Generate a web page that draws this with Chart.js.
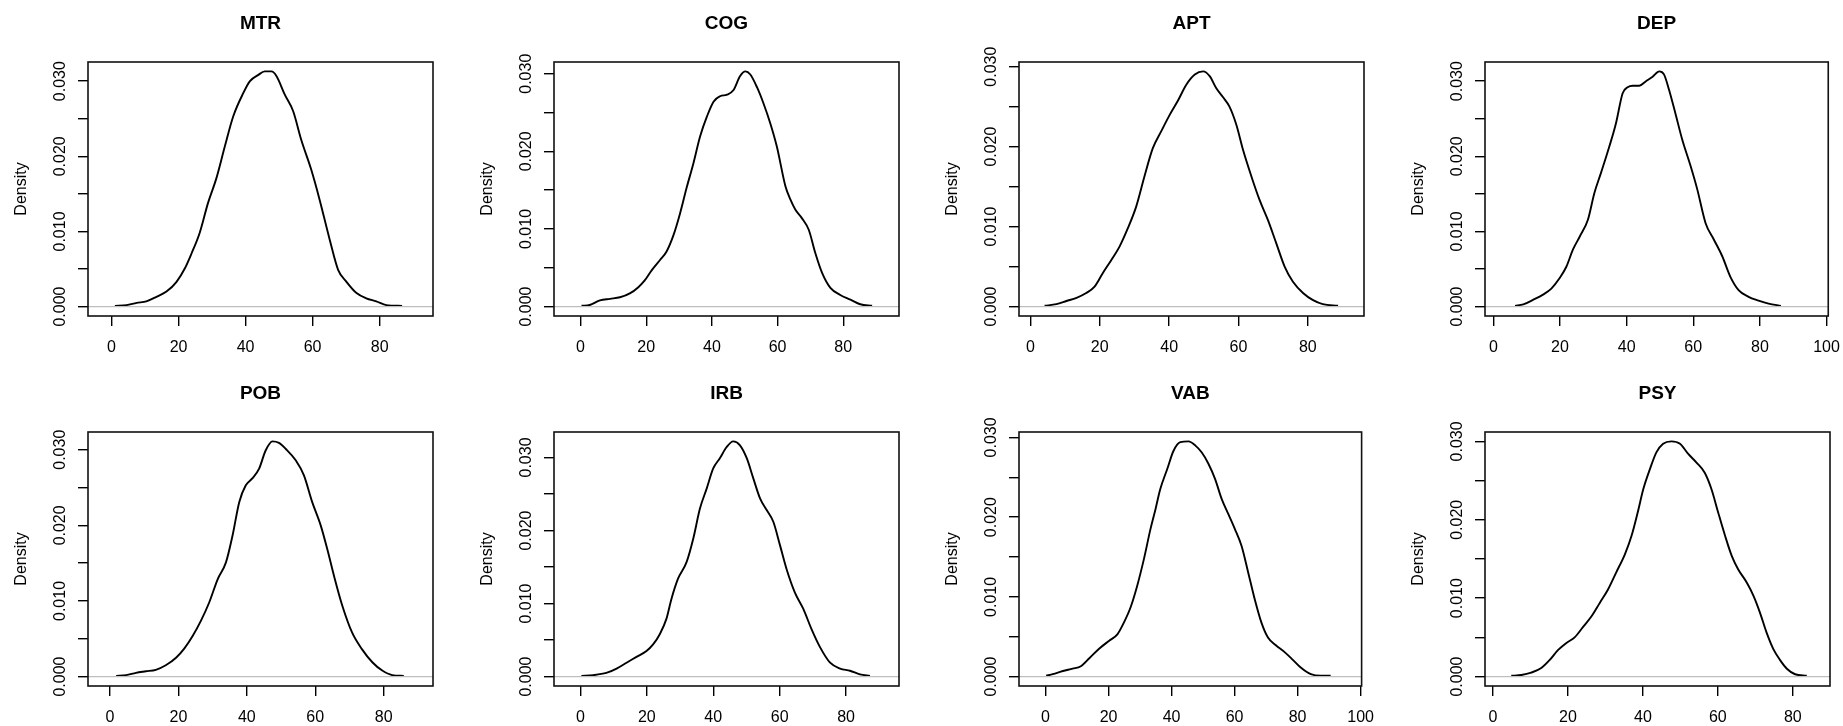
<!DOCTYPE html>
<html>
<head>
<meta charset="utf-8">
<script src="https://cdn.jsdelivr.net/npm/chart.js@4.4.1/dist/chart.umd.min.js"></script>
<style>
html,body{margin:0;padding:0;background:#fff;overflow:hidden;width:1843px;height:726px;position:relative;}
canvas{position:absolute;}
</style>
</head>
<body>
<script>
// ---------- data ----------
const panelNames = ['MTR','COG','APT','DEP','POB','IRB','VAB','PSY'];

const mtrX = [1, 4.5, 7.5, 10.4, 13.4, 16.4, 19.4, 21.9, 23.9, 26.3, 28.8, 31.3, 33.8, 36.3, 39.3, 41.3, 43.7, 45.7, 47.7, 49.2, 51.7, 54.2, 56.6, 59.6, 62.1, 65.1, 67.6, 70.1, 73.1, 76.0, 79.0, 82.0, 86.7];
const mtrY = [0.0001, 0.0002, 0.0005, 0.0007, 0.0013, 0.0020, 0.0033, 0.0051, 0.0071, 0.0098, 0.0138, 0.0171, 0.0213, 0.0253, 0.0284, 0.0300, 0.0308, 0.0313, 0.0313, 0.0307, 0.0282, 0.0260, 0.0222, 0.0182, 0.0142, 0.0089, 0.0049, 0.0033, 0.0018, 0.0011, 0.0007, 0.0002, 0.0001];

const cogX = [0.3, 2.8, 5.9, 9.0, 12.0, 15.0, 17.6, 19.6, 21.7, 24.2, 26.2, 28.3, 30.3, 32.3, 34.4, 36.4, 38.5, 40.5, 42.5, 44.6, 46.6, 48.6, 50.2, 51.7, 53.8, 55.7, 57.8, 59.8, 62.4, 63.9, 65.4, 67.4, 69.5, 71.5, 73.6, 76.1, 79.1, 82.2, 85.2, 88.8];
const cogY = [0.0001, 0.0002, 0.0008, 0.0010, 0.0012, 0.0017, 0.0025, 0.0034, 0.0047, 0.0060, 0.0071, 0.0092, 0.0120, 0.0153, 0.0185, 0.0219, 0.0245, 0.0264, 0.0271, 0.0273, 0.0279, 0.0297, 0.0303, 0.0299, 0.0282, 0.0262, 0.0236, 0.0206, 0.0155, 0.0138, 0.0125, 0.0114, 0.0099, 0.0069, 0.0043, 0.0024, 0.0015, 0.0009, 0.0003, 0.0001];

const aptX = [4.1, 7.5, 10.4, 13.3, 16.1, 18.5, 20.9, 23.3, 25.7, 28.1, 30.5, 32.9, 35.3, 37.7, 40.2, 42.6, 44.9, 47.4, 49.8, 51.7, 53.6, 55.5, 57.4, 59.4, 61.3, 63.7, 66.1, 68.5, 70.9, 73.3, 75.7, 78.6, 81.5, 84.3, 88.7];
const aptY = [0.0001, 0.0003, 0.0007, 0.0011, 0.0017, 0.0025, 0.0042, 0.0058, 0.0075, 0.0098, 0.0125, 0.0163, 0.0198, 0.0219, 0.0240, 0.0258, 0.0277, 0.0290, 0.0294, 0.0288, 0.0273, 0.0262, 0.0250, 0.0227, 0.0196, 0.0163, 0.0133, 0.0108, 0.0079, 0.0050, 0.0031, 0.0017, 0.0008, 0.0003, 0.0001];

const depX = [6.5, 9.0, 11.9, 14.9, 17.4, 19.9, 21.9, 23.9, 25.9, 28.4, 30.3, 32.3, 34.8, 36.8, 38.8, 40.3, 41.8, 43.8, 45.8, 47.8, 49.8, 51.2, 52.7, 54.7, 56.7, 59.2, 61.2, 63.7, 66.2, 68.7, 71.1, 73.6, 76.6, 79.6, 82.6, 86.3];
const depY = [0.0001, 0.0003, 0.0009, 0.0016, 0.0024, 0.0038, 0.0053, 0.0076, 0.0093, 0.0116, 0.0151, 0.0178, 0.0213, 0.0244, 0.0284, 0.0292, 0.0294, 0.0294, 0.0300, 0.0306, 0.0313, 0.0309, 0.0289, 0.0256, 0.0222, 0.0187, 0.0156, 0.0111, 0.0089, 0.0067, 0.0040, 0.0022, 0.0013, 0.0008, 0.0004, 0.0001];

const pobX = [1.8, 4.7, 7.6, 10.5, 13.4, 16.3, 19.3, 21.7, 24.2, 26.6, 29.0, 31.5, 33.9, 35.8, 37.8, 39.7, 41.6, 43.6, 45.5, 47.5, 49.4, 51.4, 54.3, 56.7, 59.1, 61.6, 63.5, 65.5, 67.9, 70.8, 73.7, 76.7, 79.6, 82.5, 85.9];
const pobY = [0.0001, 0.0002, 0.0005, 0.0007, 0.0009, 0.0015, 0.0025, 0.0037, 0.0054, 0.0074, 0.0098, 0.0129, 0.0151, 0.0186, 0.0231, 0.0253, 0.0262, 0.0275, 0.0299, 0.0311, 0.0309, 0.0301, 0.0286, 0.0266, 0.0231, 0.0200, 0.0169, 0.0133, 0.0094, 0.0058, 0.0036, 0.0019, 0.0008, 0.0002, 0.0001];

const irbX = [0.3, 3.8, 7.8, 10.9, 13.9, 16.9, 19.9, 21.9, 23.9, 25.9, 27.4, 29.4, 32.0, 34.0, 36.0, 38.0, 40.0, 42.0, 44.0, 46.0, 48.0, 50.1, 52.1, 54.1, 56.1, 58.1, 60.1, 62.1, 64.6, 67.1, 69.6, 72.2, 75.2, 78.2, 81.2, 84.2, 87.2];
const irbY = [0.0001, 0.0002, 0.0005, 0.0011, 0.0019, 0.0027, 0.0035, 0.0044, 0.0058, 0.0079, 0.0106, 0.0134, 0.0157, 0.0189, 0.0230, 0.0257, 0.0285, 0.0299, 0.0314, 0.0322, 0.0317, 0.0299, 0.0271, 0.0244, 0.0228, 0.0212, 0.0180, 0.0147, 0.0115, 0.0093, 0.0065, 0.0040, 0.0019, 0.0011, 0.0008, 0.0003, 0.0001];

const vabX = [0.2, 2.3, 5.5, 8.6, 11.2, 13.9, 17.0, 20.2, 22.8, 24.9, 27.0, 29.1, 31.2, 33.3, 34.9, 36.4, 38.6, 40.6, 42.8, 45.4, 47.5, 49.6, 51.7, 53.8, 55.9, 58.0, 60.1, 62.2, 64.3, 66.4, 68.5, 70.6, 73.2, 75.8, 78.5, 81.1, 84.2, 87.4, 90.5];
const vabY = [0.0001, 0.0003, 0.0007, 0.0010, 0.0013, 0.0023, 0.0035, 0.0045, 0.0053, 0.0068, 0.0087, 0.0114, 0.0147, 0.0185, 0.0210, 0.0235, 0.0260, 0.0283, 0.0294, 0.0295, 0.0290, 0.0281, 0.0267, 0.0248, 0.0223, 0.0204, 0.0185, 0.0164, 0.0131, 0.0097, 0.0068, 0.0049, 0.0039, 0.0031, 0.0021, 0.0011, 0.0003, 0.0001, 0.0001];

const psyX = [4.9, 7.6, 10.2, 12.9, 15.1, 17.4, 19.6, 21.8, 24.0, 26.3, 28.5, 30.7, 32.9, 35.2, 37.0, 38.7, 40.1, 41.9, 43.6, 45.4, 47.6, 49.9, 52.1, 54.3, 56.5, 58.3, 60.1, 61.9, 63.7, 65.4, 67.7, 69.5, 71.2, 73.0, 74.8, 76.6, 78.4, 80.6, 83.7];
const psyY = [0.0001, 0.0002, 0.0005, 0.0011, 0.0021, 0.0034, 0.0043, 0.0050, 0.0063, 0.0077, 0.0094, 0.0111, 0.0133, 0.0156, 0.0180, 0.0211, 0.0239, 0.0265, 0.0286, 0.0297, 0.0300, 0.0297, 0.0284, 0.0273, 0.0260, 0.0239, 0.0209, 0.0180, 0.0154, 0.0137, 0.0120, 0.0103, 0.0082, 0.0056, 0.0035, 0.0021, 0.0010, 0.0003, 0.0001];

// range over which each density was evaluated (x support)
const mtrRange = [-3.2, 92.1];
const cogRange = [-4.2, 93.1];
const aptRange = [0.4, 92.5];
const depRange = [1.3, 96.7];
const pobRange = [-2.7, 90.7];
const irbRange = [-4.1, 92.1];
const vabRange = [-4.4, 96.3];
const psyRange = [1.3, 86.5];

const xTicks80 = [0, 20, 40, 60, 80];
const xTicks100 = [0, 20, 40, 60, 80, 100];
const yTicks = [0, 0.005, 0.010, 0.015, 0.020, 0.025, 0.030];
const yTickLabels = ['0.000', '', '0.010', '', '0.020', '', '0.030'];
const yAxisTitle = 'Density';

const panelX = [mtrX, cogX, aptX, depX, pobX, irbX, vabX, psyX];
const panelY = [mtrY, cogY, aptY, depY, pobY, irbY, vabY, psyY];
const panelRange = [mtrRange, cogRange, aptRange, depRange, pobRange, irbRange, vabRange, psyRange];
const panelXTicks = [xTicks80, xTicks80, xTicks80, xTicks100, xTicks80, xTicks80, xTicks100, xTicks80];

// ---------- layout ----------
const colLeft = [0, 466, 931, 1397];
const rowTop = [0, 370];
const rowH = [363, 356];
const canvasW = 455;
const boxLeft = 88, boxRight = 433, boxTop = 62, boxBottom = 316;
const FONT = '"Liberation Sans", Arial, Helvetica, sans-serif';

const boxPlugin = {
  id: 'rbox',
  afterDraw(chart) {
    const a = chart.chartArea, ctx = chart.ctx;
    ctx.save();
    ctx.strokeStyle = '#111';
    ctx.lineWidth = 1.6;
    ctx.strokeRect(a.left, a.top, a.right - a.left, a.bottom - a.top);
    ctx.restore();
  }
};

for (let i = 0; i < 8; i++) {
  const r = Math.floor(i / 4), c = i % 4;
  const cv = document.createElement('canvas');
  cv.width = canvasW; cv.height = rowH[r];
  cv.style.left = colLeft[c] + 'px';
  cv.style.top = rowTop[r] + 'px';
  cv.style.width = canvasW + 'px';
  cv.style.height = rowH[r] + 'px';
  document.body.appendChild(cv);

  const xs = panelX[i], ys = panelY[i], rg = panelRange[i];
  const ymax = Math.max(...ys);
  const xspan = rg[1] - rg[0];
  const xmin = rg[0] - 0.04 * xspan, xmax = rg[1] + 0.04 * xspan;
  const ymin = -0.04 * ymax, ytop = ymax * 1.04;
  const ticksX = panelXTicks[i];
  const xAxisH = rowH[r] - boxBottom;

  new Chart(cv, {
    type: 'line',
    data: {
      datasets: [
        {
          data: xs.map((x, k) => ({x: x, y: ys[k]})),
          borderColor: '#000', borderWidth: 1.9, pointRadius: 0,
          cubicInterpolationMode: 'monotone', fill: false, order: 2
        },
        {
          data: [{x: xmin, y: 0}, {x: xmax, y: 0}],
          borderColor: '#bebebe', borderWidth: 1.4, pointRadius: 0,
          fill: false, order: 1
        }
      ]
    },
    options: {
      responsive: false, animation: false, devicePixelRatio: 1,
      events: [],
      layout: {padding: {left: 0, right: canvasW - boxRight, top: 0, bottom: 0}},
      plugins: {
        legend: {display: false},
        tooltip: {enabled: false},
        title: {
          display: true, text: panelNames[i], fullSize: false, color: '#000',
          font: {family: FONT, size: 19, weight: 'bold', lineHeight: 1.2},
          padding: {top: 12.6, bottom: boxTop - 12.6 - 22.8}
        }
      },
      scales: {
        x: {
          type: 'linear', min: xmin, max: xmax,
          grid: {drawOnChartArea: false, drawTicks: true, tickLength: 10, color: '#000', lineWidth: 1.4},
          border: {display: false},
          ticks: {
            autoSkip: false, maxRotation: 0, color: '#000', padding: 12,
            font: {family: FONT, size: 16, lineHeight: 1.2},
            callback: (v, k) => String(ticksX[k])
          },
          afterBuildTicks: s => { s.ticks = ticksX.map(v => ({value: v})); },
          afterFit: s => { s.height = xAxisH; }
        },
        y: {
          type: 'linear', min: ymin, max: ytop,
          grid: {drawOnChartArea: false, drawTicks: true, tickLength: 10, color: '#000', lineWidth: 1.4},
          border: {display: false},
          ticks: {
            autoSkip: false, minRotation: 90, maxRotation: 90, crossAlign: 'center',
            color: '#000', padding: -2.5,
            font: {family: FONT, size: 16, lineHeight: 1.2},
            callback: (v, k) => yTickLabels[k]
          },
          title: {
            display: true, text: yAxisTitle, color: '#000',
            font: {family: FONT, size: 16, lineHeight: 1.2},
            padding: {top: 12, bottom: 0}
          },
          afterBuildTicks: s => { s.ticks = yTicks.map(v => ({value: v})); },
          afterFit: s => { s.width = boxLeft; }
        }
      }
    },
    plugins: [boxPlugin]
  });
}
</script>
</body>
</html>
